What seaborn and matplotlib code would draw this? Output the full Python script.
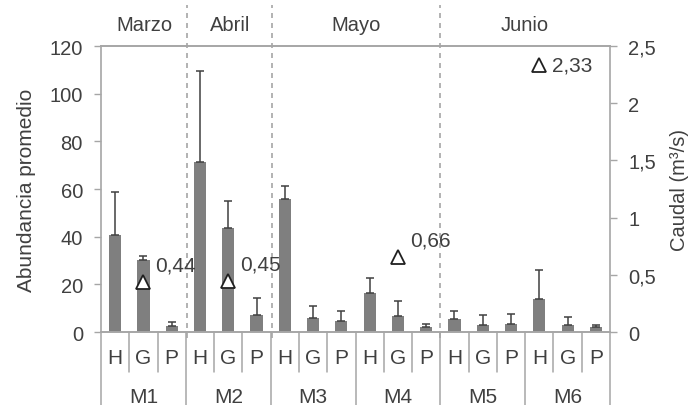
import numpy as np
import pandas as pd
import matplotlib
matplotlib.use('Agg')
import matplotlib.pyplot as plt
import matplotlib.transforms as mtransforms
import seaborn as sns

# data
sites = ['M1', 'M2', 'M3', 'M4', 'M5', 'M6']
groups = ['H', 'G', 'P']
abund_mean = [40.8, 30.3, 2.5,
              71.5, 43.6, 7.0,
              56.0, 5.9, 4.6,
              16.2, 6.6, 2.2,
              5.5, 3.1, 3.5,
              14.0, 3.1, 2.0]
abund_sd = [17.8, 1.7, 1.6,
            37.9, 11.4, 7.4,
            5.4, 5.1, 4.1,
            6.3, 6.5, 1.2,
            3.2, 3.9, 3.9,
            11.9, 3.3, 0.8]
caudal_slot = ['M1-G', 'M2-G', 'M4-G', 'M6-H']
caudal_val = [0.44, 0.45, 0.66, 2.33]
caudal_txt = ['0,44', '0,45', '0,66', '2,33']
months = ['Marzo', 'Abril', 'Mayo', 'Junio']
month_edges = [-0.5, 2.55, 5.55, 11.5, 17.5]
left_ticks = [0, 20, 40, 60, 80, 100, 120]
right_ticks = [0, 0.5, 1, 1.5, 2, 2.5]
right_labels = ['0', '0,5', '1', '1,5', '2', '2,5']

sns.set_theme(style='white')
plt.rcParams['font.family'] = ['Liberation Sans', 'DejaVu Sans']

txt = '#404040'
line_c = '#a6a6a6'
bar_c = '#7f7f7f'

slots = [f'{s}-{g}' for s in sites for g in groups]
df = pd.DataFrame({'slot': slots, 'mean': abund_mean, 'sd': abund_sd})

fig = plt.figure(figsize=(6.99, 4.06), dpi=100)
ax = fig.add_axes([0.1445, 0.1798, 0.7282, 0.7044])

sns.barplot(data=df, x='slot', y='mean', order=slots, color=bar_c,
            width=0.43, errorbar=None, saturation=1, linewidth=0, ax=ax)
xpos = np.arange(len(slots))
ax.errorbar(xpos, df['mean'], yerr=[np.zeros(len(slots)), df['sd']],
            fmt='none', ecolor='#404040', elinewidth=1.1, capsize=2.7, capthick=1.1)

ax.set_xlim(-0.5, len(slots) - 0.5)
ax.set_ylim(0, 120)
ax.set_yticks(left_ticks)
ax.set_xticks([])
ax.set_xlabel('')
ax.set_ylabel('Abundancia promedio', fontsize=15, color=txt, labelpad=10)
ax.tick_params(axis='y', left=True, direction='out', length=5, width=1,
               color=line_c, labelsize=14.5, labelcolor=txt, pad=8)
for sp in ax.spines.values():
    sp.set_color(line_c)
    sp.set_linewidth(1.2)
ax.spines['right'].set_visible(False)

ax2 = ax.twinx()
ax2.set_ylim(0, 2.5)
ax2.set_yticks(right_ticks)
ax2.set_yticklabels(right_labels)
ax2.tick_params(axis='y', right=True, direction='out', length=5, width=1,
                color=line_c, labelsize=14.5, labelcolor=txt, pad=8)
ax2.set_ylabel('Caudal (m³/s)', fontsize=14.5, color=txt, labelpad=10)
for sp in ax2.spines.values():
    sp.set_color(line_c)
    sp.set_linewidth(1.2)
ax2.spines['left'].set_visible(False)

cx = [slots.index(s) for s in caudal_slot]
ax2.plot(cx, caudal_val, linestyle='none', marker='^', markersize=10.5,
         markerfacecolor='white', markeredgecolor='#202020', markeredgewidth=1.3,
         clip_on=False, zorder=5)
for x, v, t in zip(cx, caudal_val, caudal_txt):
    if v > 2:
        off = (13, 0)
    else:
        off = (12, 17)
    ax2.annotate(t, (x, v), xytext=off, textcoords='offset pixels',
                 ha='left', va='center', fontsize=15, color=txt)

# month dividers and headers
tr = mtransforms.blended_transform_factory(ax.transData, ax.transAxes)
for e in month_edges[1:-1]:
    ax.plot([e, e], [-0.02, 1.145], transform=tr, color=line_c, lw=1.2,
            linestyle=(0, (3, 3)), clip_on=False, zorder=1)
for m, a, b in zip(months, month_edges[:-1], month_edges[1:]):
    ax.text((a + b) / 2, 1.075, m, transform=tr, ha='center', va='center',
            fontsize=14.5, color=txt)

# two-level category axis
for i, s in enumerate(slots):
    ax.text(i, -0.088, s.split('-')[1], transform=tr, ha='center', va='center',
            fontsize=15, color=txt)
for i in range(len(slots) + 1):
    depth = -0.255 if i % 3 == 0 else -0.14
    ax.plot([i - 0.5, i - 0.5], [0, depth], transform=tr, color=line_c, lw=1.1,
            clip_on=False)
for k, s in enumerate(sites):
    ax.text(3 * k + 1, -0.225, s, transform=tr, ha='center', va='center',
            fontsize=15, color=txt)

fig.savefig('out.png', dpi=100)
